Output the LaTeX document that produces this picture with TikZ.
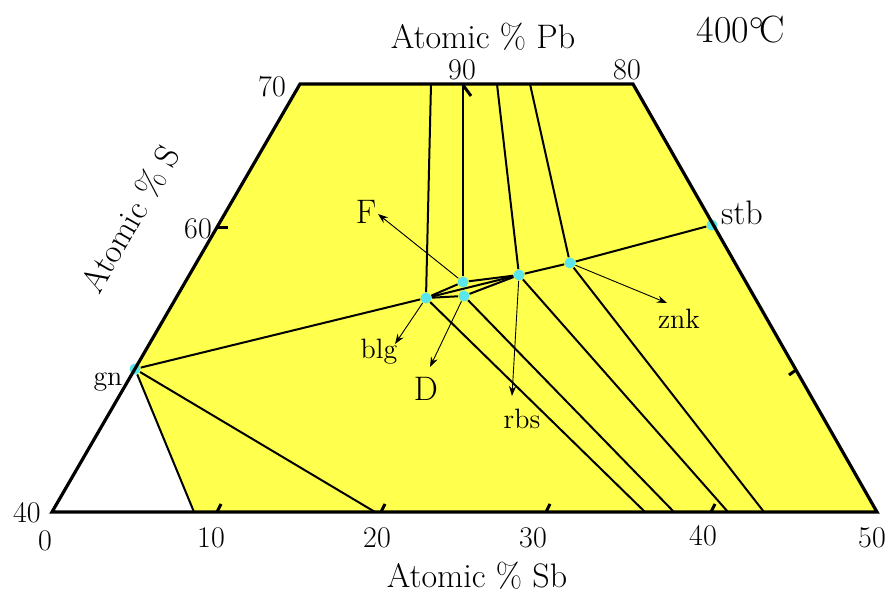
\documentclass[tikz,border=0pt]{standalone}
\usetikzlibrary{arrows.meta}
\definecolor{phase}{RGB}{255,255,77}
\definecolor{dotcyan}{RGB}{90,230,235}
\begin{document}
\begin{tikzpicture}[x=0.5pt,y=-0.5pt,
  edge/.style={line width=1.6pt,line join=miter},
  tie/.style={line width=1pt},
  tick/.style={line width=1.5pt},
  lead/.style={line width=0.45pt,-{Stealth[length=5pt,width=3.6pt]}},
  num/.style={font=\fontsize{15}{16}\selectfont},
  lab/.style={font=\fontsize{14}{15}\selectfont},
  axl/.style={font=\fontsize{17}{18}\selectfont},
  pt/.style={circle,fill=dotcyan,inner sep=0pt,minimum size=5.5pt}]
  \useasboundingbox (0,0) rectangle (891,593);
  % outline corners and line ends
  \coordinate (bl) at (52,512);  \coordinate (tl) at (300,84);
  \coordinate (tr) at (633,84);  \coordinate (br) at (877,512);
  \coordinate (ta) at (431,84);  \coordinate (tb) at (463,84);
  \coordinate (tc) at (497,84);  \coordinate (td) at (530,84);
  \coordinate (ba) at (194,512); \coordinate (bb) at (375,512);
  \coordinate (bc) at (645,512); \coordinate (bd) at (674,512);
  \coordinate (be) at (728,512); \coordinate (bf) at (764,512);
  \fill[phase] (135,369) -- (tl) -- (tr) -- (br) -- (ba) -- cycle;
  % phase points
  \node[pt] (gn) at (135,369) {};
  \node[pt] (stb) at (712,225) {};
  \node[pt] (blg) at (426,298) {};
  \node[pt] (fpt) at (463,282) {};
  \node[pt] (dpt) at (464,296) {};
  \node[pt] (rbs) at (519,275) {};
  \node[pt] (znk) at (570,263) {};
  % tie lines
  \draw[tie] (gn) -- (blg); \draw[tie] (blg) -- (rbs);
  \draw[tie] (rbs) -- (znk); \draw[tie] (znk) -- (stb);
  \draw[tie] (blg) -- (fpt); \draw[tie] (blg) -- (dpt);
  \draw[tie] (fpt) -- (rbs); \draw[tie] (dpt) -- (rbs);
  \draw[tie] (ta) -- (blg); \draw[tie] (tb) -- (fpt);
  \draw[tie] (tc) -- (rbs); \draw[tie] (td) -- (znk);
  \draw[tie] (gn) -- (ba); \draw[tie] (gn) -- (bb);
  \draw[tie] (blg) -- (bc); \draw[tie] (dpt) -- (bd);
  \draw[tie] (rbs) -- (be); \draw[tie] (znk) -- (bf);
  \draw[edge] (bl) -- (tl) -- (tr) -- (br) -- cycle;
  % ticks
  \draw[tick] (217,512) -- (221,504); \draw[tick] (381,512) -- (385,504);
  \draw[tick] (546,512) -- (550,504); \draw[tick] (711,512) -- (715,504);
  \draw[tick] (217,228) -- (228,228); \draw[tick] (463,85) -- (471,96);
  \draw[tick] (796,370) -- (789,375);
  % labels
  \node[axl] (flab) at (366,212) {F};
  \node[lab] (blglab) at (379,352) {blg};
  \node[axl] (dlab) at (426,389) {D};
  \node[lab] (rbslab) at (522,419) {rbs};
  \node[lab] (znklab) at (679,319) {znk};
  \node[lab] (gnlab) at (108,382) {gn};
  \node[axl] (stblab) at (742,213) {stb};
  \draw[lead] (fpt) -- (378,214);
  \draw[lead] (blg) -- (395,344);
  \draw[lead] (dpt) -- (430,367);
  \draw[lead] (rbs) -- (512,396);
  \draw[lead] (znk) -- (667,303);
  % axes
  \node[num] (s40) at (27,513) {40};
  \node[num] (s60) at (198,229) {60};
  \node[num] (s70) at (272,87) {70};
  \node[num] (p90) at (462,70) {90};
  \node[num] (p80) at (627,70) {80};
  \node[num] (b0) at (45,541) {0};
  \node[num] (b10) at (211,538) {10};
  \node[num] (b20) at (377,538) {20};
  \node[num] (b30) at (533,538) {30};
  \node[num] (b40) at (703,536) {40};
  \node[num] (b50) at (872,538) {50};
  \node[axl,inner sep=1pt] (sbax) at (477,576) {Atomic \% Sb};
  \node[axl] (pbax) at (483,37) {Atomic \% Pb};
  \node[axl,rotate=60,inner sep=0pt] (sax) at (130,219) {Atomic \% S};
  \node[font=\fontsize{19}{20}\selectfont] (temp) at (741,30) {400$^{\circ}$\kern-0.12em C};
\end{tikzpicture}
\end{document}
